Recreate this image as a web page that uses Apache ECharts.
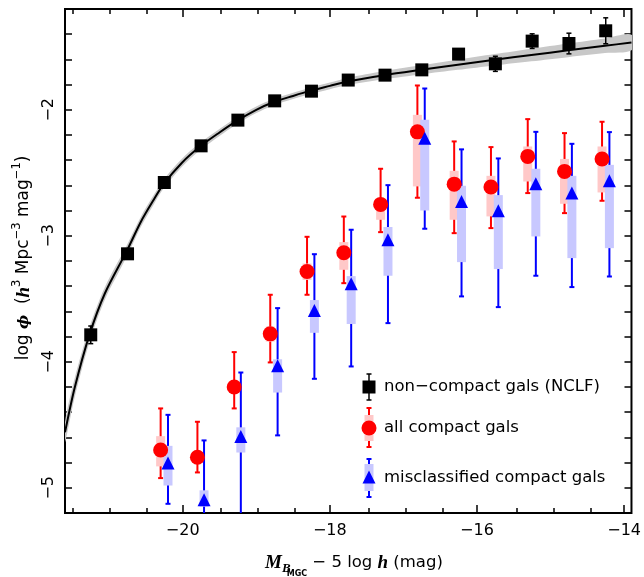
<!DOCTYPE html>
<html><head><meta charset="utf-8">
<script src="https://cdn.jsdelivr.net/npm/echarts@6/dist/echarts.min.js"></script>
<style>html,body{margin:0;padding:0;background:#fff}#c{width:644px;height:577px}</style>
</head><body><div id="c"></div>
<script>
// ---------------- data ----------------
const ncMag    = [-21.25,-20.75,-20.25,-19.75,-19.25,-18.75,-18.25,-17.75,-17.25,-16.75,-16.25,-15.75,-15.25,-14.75,-14.25];
const ncLogPhi = [-3.786,-3.143,-2.577,-2.286,-2.082,-1.929,-1.852,-1.764,-1.725,-1.683,-1.558,-1.635,-1.455,-1.474,-1.373];
const ncErr    = [0.07,0.03,0.02,0.02,0.02,0.02,0.02,0.02,0.025,0.03,0.04,0.06,0.058,0.082,0.103];

const fitMag    = [-21.60,-21.47,-21.27,-21.06,-20.76,-20.57,-20.39,-20.26,-20.01,-19.76,-19.50,-19.27,-19.00,-18.77,-18.50,-18.27,-18.00,-17.76,-17.26,-16.76,-16.26,-15.76,-15.26,-14.76,-14.26,-13.90];
const fitLogPhi = [-4.56,-4.21,-3.79,-3.46,-3.12,-2.89,-2.71,-2.59,-2.42,-2.29,-2.18,-2.09,-2.00,-1.94,-1.89,-1.85,-1.81,-1.775,-1.725,-1.683,-1.643,-1.603,-1.565,-1.528,-1.492,-1.466];
const fitBand   = [0.08,0.075,0.06,0.05,0.045,0.04,0.037,0.035,0.032,0.03,0.028,0.027,0.026,0.025,0.025,0.025,0.026,0.028,0.032,0.036,0.04,0.045,0.05,0.054,0.058,0.062];

const allMag    = [-20.30,-19.80,-19.30,-18.81,-18.31,-17.81,-17.31,-16.81,-16.31,-15.81,-15.31,-14.81,-14.30];
const allLogPhi = [-4.70,-4.757,-4.20,-3.778,-3.283,-3.135,-2.751,-2.175,-2.59,-2.613,-2.37,-2.489,-2.39];
const allErrHi  = [-4.37,-4.476,-3.923,-3.468,-3.008,-2.847,-2.468,-1.807,-2.251,-2.296,-2.074,-2.185,-2.095];
const allErrLo  = [-4.923,-4.878,-4.37,-4.005,-3.468,-3.376,-2.971,-2.698,-2.979,-2.939,-2.661,-2.82,-2.722];
const allBoxHi  = [-4.59,-4.71,-4.15,-3.72,-3.22,-3.05,-2.714,-2.04,-2.484,-2.524,-2.291,-2.39,-2.291];
const allBoxLo  = [-4.83,-4.80,-4.25,-3.84,-3.35,-3.27,-2.873,-2.608,-2.873,-2.846,-2.569,-2.746,-2.656];

const misMag    = [-20.20,-19.71,-19.21,-18.71,-18.21,-17.71,-17.21,-16.71,-16.21,-15.71,-15.20,-14.71,-14.20];
const misLogPhi = [-4.804,-5.095,-4.592,-4.032,-3.593,-3.381,-3.032,-2.225,-2.727,-2.802,-2.587,-2.661,-2.563];
const misErrHi  = [-4.421,-4.624,-4.085,-3.574,-3.146,-2.952,-2.598,-1.831,-2.314,-2.386,-2.175,-2.27,-2.177];
const misErrLo  = [-5.127,-5.6,-5.6,-4.584,-4.135,-4.037,-3.693,-2.944,-3.481,-3.566,-3.317,-3.407,-3.323];
const misBoxHi  = [-4.667,-5.02,-4.52,-3.98,-3.51,-3.32,-2.93,-2.079,-2.603,-2.677,-2.468,-2.524,-2.437];
const misBoxLo  = [-4.982,-5.15,-4.72,-4.244,-3.77,-3.70,-3.317,-2.799,-3.209,-3.264,-3.005,-3.177,-3.098];

const xMajorTicks = [-20,-18,-16,-14];
const xMinorTicks = [-21.5,-21,-20.5,-19.5,-19,-18.5,-17.5,-17,-16.5,-15.5,-15,-14.5];
const yTicks  = [-5,-4.8,-4.6,-4.4,-4.2,-4,-3.8,-3.6,-3.4,-3.2,-3,-2.8,-2.6,-2.4,-2.2,-2,-1.8,-1.6,-1.4];
const yLabels = [-5,-4,-3,-2];
const legendLabels = ['non\u2212compact gals (NCLF)','all compact gals','misclassified compact gals'];

// ---------------- chart ----------------
const X_MIN=-21.6, X_MAX=-13.9, Y_MIN=-5.2, Y_MAX=-1.2;
const GRID = {left:65, top:9, width:570, height:504};
const fmt = v => String(v).replace('-', '\u2212');
const FONT = 'DejaVu Sans';

function errRender(color, lw, cap){
  return function(params, api){
    const x = api.value(0);
    const lo = api.coord([x, api.value(1)]);
    const hi = api.coord([x, api.value(2)]);
    const c = cap/2;
    const st = {stroke: color, lineWidth: lw};
    return {type:'group', children:[
      {type:'line', shape:{x1:hi[0],y1:hi[1],x2:lo[0],y2:lo[1]}, style:st},
      {type:'line', shape:{x1:hi[0]-c,y1:hi[1],x2:hi[0]+c,y2:hi[1]}, style:st},
      {type:'line', shape:{x1:lo[0]-c,y1:lo[1],x2:lo[0]+c,y2:lo[1]}, style:st}
    ]};
  };
}
function boxRender(color, w){
  return function(params, api){
    const x = api.value(0);
    const lo = api.coord([x, api.value(1)]);
    const hi = api.coord([x, api.value(2)]);
    return {type:'rect', shape:{x:hi[0]-w/2, y:hi[1], width:w, height:lo[1]-hi[1]}, style:{fill:color}};
  };
}
function bandRender(params, api){
  const up = fitMag.map((m,i)=>api.coord([m, fitLogPhi[i]+fitBand[i]]));
  const lo = fitMag.map((m,i)=>api.coord([m, fitLogPhi[i]-fitBand[i]])).reverse();
  return {type:'polygon', shape:{points: up.concat(lo), smooth:0.3}, style:{fill:'#c8c8c8'}};
}
function fitRender(params, api){
  const pts = fitMag.map((m,i)=>api.coord([m, fitLogPhi[i]]));
  return {type:'polyline', shape:{points: pts, smooth:0.3}, style:{stroke:'#000', lineWidth:2, fill:null}};
}

const axisTickStyle = {color:'#000', width:1.5};
function xAx(grid, pos, ticks, len, labels){
  return {gridIndex:grid, type:'value', min:X_MIN, max:X_MAX, position:pos,
    axisLine:{show:false}, splitLine:{show:false},
    axisTick:{show:true, inside:true, length:len, customValues:ticks, lineStyle:axisTickStyle},
    axisLabel: labels ? {show:true, customValues:xMajorTicks, formatter:fmt, margin:10, color:'#000', fontSize:16, fontFamily:FONT}
                      : {show:false}};
}
function yAx(grid, pos, show, labels){
  return {gridIndex:grid, type:'value', min:Y_MIN, max:Y_MAX, position:pos, show:show,
    axisLine:{show:false}, splitLine:{show:false},
    axisTick:{show:true, inside:true, length:7, customValues:yTicks, lineStyle:axisTickStyle},
    axisLabel: labels ? {show:true, customValues:yLabels, formatter:fmt, rotate:90, margin:8, color:'#000', fontSize:16, fontFamily:FONT}
                      : {show:false}};
}

// title layout helpers
const mctx = document.createElement('canvas').getContext('2d');
function tw(t,f){ mctx.font=f; return mctx.measureText(t).width; }
function titleGroup(tokens, cx, cy, rot){
  let cur = 0; const placed = [];
  tokens.forEach(t => { cur += (t.dx||0); placed.push({t, x:cur}); cur += tw(t.text, t.font); });
  const total = cur;
  return {type:'group', x:cx, y:cy, rotation:rot, z:100,
    children: placed.map(p => ({type:'text', x:p.x - total/2, y:(p.t.dy||0),
      style:{text:p.t.text, font:p.t.font, fill:'#000', textAlign:'left', textVerticalAlign:'middle', align:'left', verticalAlign:'middle'}}))};
}
const sans = s => s + 'px "DejaVu Sans"';
const serifBI = s => 'italic bold ' + s + 'px "Liberation Serif"';

const xTitle = titleGroup([
  {text:'M', font:serifBI(19), dy:0},
  {text:'B', font:serifBI(13), dy:6},
  {text:'MGC', font:'bold 8px "DejaVu Sans"', dy:11, dx:-4},
  {text:' \u2212 5 log ', font:sans(16.5)},
  {text:'h', font:serifBI(19), dy:0},
  {text:' (mag)', font:sans(16.5)}
], 354, 563, 0);

const yTitle = titleGroup([
  {text:'log ', font:sans(17)},
  {text:'\u03D5', font:'italic bold 15px "DejaVu Serif"'},
  {text:'  (', font:sans(17)},
  {text:'h', font:serifBI(19)},
  {text:'3', font:sans(11.5), dy:-7},
  {text:' Mpc', font:sans(17)},
  {text:'\u22123', font:sans(11.5), dy:-7},
  {text:' mag', font:sans(17)},
  {text:'\u22121', font:sans(11.5), dy:-7},
  {text:')', font:sans(17)}
], 24, 258, Math.PI/2);

// legend (graphic)
const LX = 369, LT = 384;
const capL = (x,y,c,col,w) => ({type:'line', shape:{x1:x-c,y1:y,x2:x+c,y2:y}, style:{stroke:col,lineWidth:w}});
const vL = (x,y1,y2,col,w) => ({type:'line', shape:{x1:x,y1:y1,x2:x,y2:y2}, style:{stroke:col,lineWidth:w}});
const legText = (y,t) => ({type:'text', x:LT, y:y, style:{text:t, font:sans(16.5), fill:'#000', textAlign:'left', textVerticalAlign:'middle', align:'left', verticalAlign:'middle'}});
const legend = {type:'group', z:100, children:[
  vL(LX,374,400,'#000',1.5), capL(LX,374,2.5,'#000',1.5), capL(LX,400,2.5,'#000',1.5),
  {type:'rect', shape:{x:LX-6.5,y:387-6.5,width:13,height:13}, style:{fill:'#000'}},
  legText(387, legendLabels[0]),
  vL(LX,408,447,'#ff0000',2), capL(LX,408,2.5,'#ff0000',2), capL(LX,447,2.5,'#ff0000',2),
  {type:'rect', shape:{x:LX-4.5,y:415,width:9,height:26}, style:{fill:'#ffc8c8'}},
  {type:'circle', shape:{cx:LX,cy:428,r:7.5}, style:{fill:'#ff0000'}},
  legText(428, legendLabels[1]),
  vL(LX,459,497,'#0000ff',2), capL(LX,459,2.5,'#0000ff',2), capL(LX,497,2.5,'#0000ff',2),
  {type:'rect', shape:{x:LX-4.5,y:464,width:9,height:27}, style:{fill:'#c8c8ff'}},
  {type:'polygon', shape:{points:[[LX,470.5],[LX-6.5,483.5],[LX+6.5,483.5]]}, style:{fill:'#0000ff'}},
  legText(478, legendLabels[2])
]};

const chart = echarts.init(document.getElementById('c'), null, {renderer:'canvas'});
chart.setOption({
  animation:false,
  backgroundColor:'#fff',
  grid:[
    Object.assign({show:true, borderColor:'#000', borderWidth:2, backgroundColor:'transparent'}, GRID),
    Object.assign({show:false}, GRID)
  ],
  xAxis:[ xAx(0,'bottom',xMajorTicks,8,true), xAx(0,'top',xMajorTicks,8,false),
          xAx(1,'bottom',xMinorTicks,5,false), xAx(1,'top',xMinorTicks,5,false) ],
  yAxis:[ yAx(0,'left',true,true), yAx(0,'right',true,false), yAx(1,'left',false,false) ],
  graphic:[xTitle, yTitle, legend],
  series:[
    {type:'custom', name:'band', data:[[fitMag[0], fitLogPhi[0]]], renderItem: bandRender, clip:true, z:1, silent:true},
    {type:'custom', name:'fit', data:[[fitMag[0], fitLogPhi[0]]], renderItem: fitRender, clip:true, z:2, silent:true},
    {type:'custom', name:'ncErr', data: ncMag.map((m,i)=>[m, ncLogPhi[i]-ncErr[i], ncLogPhi[i]+ncErr[i]]),
      encode:{x:0, y:[1,2]}, renderItem: errRender('#000',1.5,5), clip:true, z:3, silent:true},
    {type:'scatter', name:'nc', data: ncMag.map((m,i)=>[m, ncLogPhi[i]]), symbol:'rect', symbolSize:13,
      itemStyle:{color:'#000', opacity:1}, z:4, silent:true},
    {type:'custom', name:'allErr', data: allMag.map((m,i)=>[m, allErrLo[i], allErrHi[i]]),
      encode:{x:0, y:[1,2]}, renderItem: errRender('#ff0000',2,5), clip:true, z:5, silent:true},
    {type:'custom', name:'allBox', data: allMag.map((m,i)=>[m, allBoxLo[i], allBoxHi[i]]),
      encode:{x:0, y:[1,2]}, renderItem: boxRender('#ffc8c8',9), clip:true, z:6, silent:true},
    {type:'custom', name:'misErr', data: misMag.map((m,i)=>[m, misErrLo[i], misErrHi[i]]),
      encode:{x:0, y:[1,2]}, renderItem: errRender('#0000ff',2,5), clip:true, z:7, silent:true},
    {type:'custom', name:'misBox', data: misMag.map((m,i)=>[m, misBoxLo[i], misBoxHi[i]]),
      encode:{x:0, y:[1,2]}, renderItem: boxRender('#c8c8ff',9), clip:true, z:8, silent:true},
    {type:'scatter', name:'all', data: allMag.map((m,i)=>[m, allLogPhi[i]]), symbol:'circle', symbolSize:15,
      itemStyle:{color:'#ff0000', opacity:1}, z:9, silent:true},
    {type:'scatter', name:'mis', data: misMag.map((m,i)=>[m, misLogPhi[i]]), symbol:'triangle', symbolSize:13,
      itemStyle:{color:'#0000ff', opacity:1}, z:10, silent:true}
  ]
});
</script></body></html>
